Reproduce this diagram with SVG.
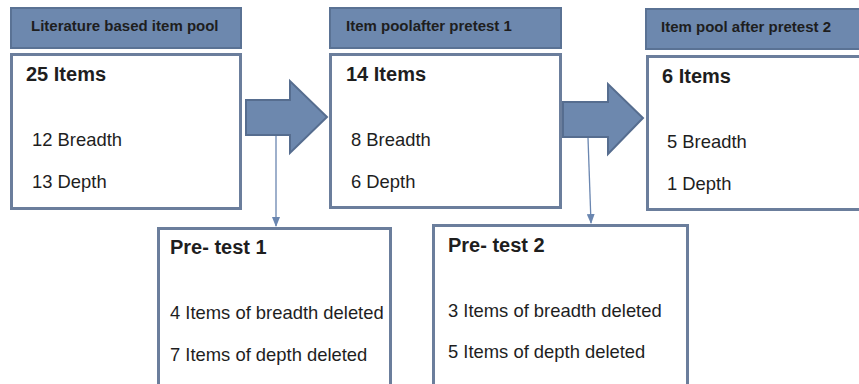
<svg xmlns="http://www.w3.org/2000/svg" width="859" height="384" viewBox="0 0 859 384">
<style>
.hdr{fill:#6d88ae;stroke:#5a7294;stroke-width:2}
.box{fill:#fff;stroke:#6b7e9c;stroke-width:3}
.arr{fill:#6d88ae;stroke:#566d8f;stroke-width:2}
.ht{font-family:"Liberation Sans",Arial,sans-serif;font-weight:bold;font-size:15px;fill:#1e1e1e}
.tt{font-family:"Liberation Sans",Arial,sans-serif;font-weight:bold;font-size:20px;fill:#1e1e1e}
.bt{font-family:"Liberation Sans",Arial,sans-serif;font-size:18.4px;fill:#1e1e1e}
.ln{stroke:#6a86b0;stroke-width:1.3;fill:none}
</style>
<defs>
<marker id="ah" markerWidth="10" markerHeight="8" refX="9" refY="4" orient="auto" markerUnits="userSpaceOnUse">
<path d="M0,0 L10,4 L0,8 z" fill="#6a86b0"/>
</marker>
</defs>
<g id="header1"><rect class="hdr" x="11" y="8" width="230" height="40"/><text class="ht" x="31" y="31">Literature based item pool</text></g>
<g id="pool1"><rect class="box" x="11.5" y="54.5" width="229" height="154"/>
<text class="tt" x="26" y="81">25 Items</text>
<text class="bt" x="32" y="146">12 Breadth</text>
<text class="bt" x="32" y="188">13 Depth</text></g>
<g id="header2"><rect class="hdr" x="330" y="8" width="231" height="40"/><text class="ht" x="346" y="31">Item poolafter pretest 1</text></g>
<g id="pool2"><rect class="box" x="330.5" y="54.5" width="230" height="153"/>
<text class="tt" x="346" y="81">14 Items</text>
<text class="bt" x="351" y="146">8 Breadth</text>
<text class="bt" x="351" y="188">6 Depth</text></g>
<g id="header3"><rect class="hdr" x="646" y="9" width="220" height="40"/><text class="ht" x="661" y="32">Item pool after pretest 2</text></g>
<g id="pool3"><rect class="box" x="647.5" y="56.5" width="220" height="153"/>
<text class="tt" x="662" y="83">6 Items</text>
<text class="bt" x="667" y="148">5 Breadth</text>
<text class="bt" x="667" y="190">1 Depth</text></g>
<g id="pretest1"><rect class="box" x="158.5" y="228.5" width="232" height="170"/>
<text class="tt" x="170" y="254">Pre- test 1</text>
<text class="bt" x="170" y="319">4 Items of breadth deleted</text>
<text class="bt" x="170" y="361">7 Items of depth deleted</text></g>
<g id="pretest2"><rect class="box" x="433.5" y="225.5" width="254" height="170"/>
<text class="tt" x="448" y="252">Pre- test 2</text>
<text class="bt" x="448" y="317">3 Items of breadth deleted</text>
<text class="bt" x="448" y="358">5 Items of depth deleted</text></g>
<g id="connectors">
<path class="arr" d="M246,100 L290,100 L290,81 L327,117 L290,153 L290,135 L246,135 Z"/>
<path class="arr" d="M563,102 L608,102 L608,84 L643,118 L608,154 L608,137 L563,137 Z"/>
<line class="ln" x1="276" y1="136" x2="276" y2="226" marker-end="url(#ah)"/>
<line class="ln" x1="588" y1="138" x2="591" y2="223" marker-end="url(#ah)"/>
</g>
</svg>
